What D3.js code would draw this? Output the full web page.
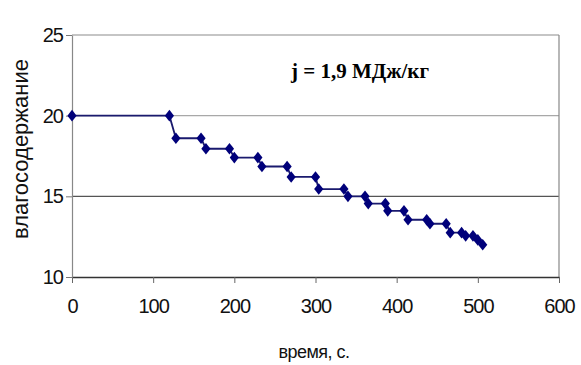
<!DOCTYPE html>
<html lang="ru">
<head>
<meta charset="UTF-8">
<title>влагосодержание</title>
<script src="https://d3js.org/d3.v7.min.js"></script>
<style>
  body { margin: 0; background: #fff; }
  .tick text { font-family: "Liberation Sans", Arial, sans-serif; font-size: 20px; letter-spacing: -1px; fill: #111; }
  .axis-title { font-family: "Liberation Sans", Arial, sans-serif; fill: #111; }
  .note { font-family: "Liberation Serif", "Times New Roman", serif; font-weight: bold; font-size: 21px; fill: #000; }
</style>
</head>
<body>
<svg width="581" height="365"></svg>
<script>
// время, с.
const times = [0, 120, 128, 159, 165, 194, 200, 229, 234, 265, 270, 300, 304, 335, 340, 361, 365,
               386, 389, 409, 414, 437, 441, 461, 466, 480, 485, 494, 500, 506];
// влагосодержание
const moisture = [20, 20, 18.6, 18.6, 17.95, 17.95, 17.4, 17.4, 16.85, 16.85, 16.2, 16.2, 15.45, 15.45, 15.0, 15.0, 14.55,
                  14.55, 14.1, 14.1, 13.55, 13.55, 13.3, 13.3, 12.75, 12.75, 12.55, 12.55, 12.3, 12.0];
const xTicks = [0, 100, 200, 300, 400, 500, 600];
const yTicks = [10, 15, 20, 25];

const data = times.map((t, i) => ({ t: t, w: moisture[i] }));

const margin = { top: 35, right: 22, bottom: 88, left: 72 };
const width = 581 - margin.left - margin.right;
const height = 365 - margin.top - margin.bottom;

const svg = d3.select("svg").append("g")
    .attr("transform", `translate(${margin.left},${margin.top})`);

const x = d3.scaleLinear().domain([0, 600]).range([0, width]);
const y = d3.scaleLinear().domain([10, 25]).range([height, 0]);

// grid lines
const gridColor = { 25: "#8c8c8c", 20: "#a8a8a8", 15: "#555" };
svg.selectAll(".grid")
    .data(yTicks.filter(d => d > 10))
    .enter().append("line")
    .attr("x1", 0).attr("x2", width)
    .attr("y1", d => y(d)).attr("y2", d => y(d))
    .attr("stroke", d => gridColor[d])
    .attr("stroke-width", 1.2);

// right border
svg.append("line")
    .attr("x1", width).attr("x2", width)
    .attr("y1", 0).attr("y2", height)
    .attr("stroke", "#888").attr("stroke-width", 1.2);

// axes
const xAxis = svg.append("g")
    .attr("transform", `translate(0,${height})`)
    .call(d3.axisBottom(x).tickValues(xTicks).tickSize(6).tickSizeOuter(0).tickPadding(16));
xAxis.select(".domain").attr("stroke", "#333").attr("stroke-width", 1.5);
xAxis.selectAll(".tick line").attr("stroke", "#666");

const yAxis = svg.append("g")
    .call(d3.axisLeft(y).tickValues(yTicks).tickSize(6).tickSizeOuter(0).tickPadding(3));
yAxis.select(".domain").attr("stroke", "#888").attr("stroke-width", 1.2);
yAxis.selectAll(".tick line").attr("stroke", "#777");

// line
svg.append("path")
    .datum(data)
    .attr("fill", "none")
    .attr("stroke", "#1a1a6e")
    .attr("stroke-width", 1.8)
    .attr("d", d3.line().x(d => x(d.t)).y(d => y(d.w)));

// diamond markers
svg.selectAll(".pt")
    .data(data)
    .enter().append("path")
    .attr("class", "pt")
    .attr("transform", d => `translate(${x(d.t)},${y(d.w)})`)
    .attr("d", "M0,-5.8L4.6,0L0,5.8L-4.6,0Z")
    .attr("fill", "#00007a");

// titles
svg.append("text")
    .attr("class", "axis-title")
    .attr("x", 242).attr("y", height + 81)
    .attr("text-anchor", "middle")
    .attr("font-size", "18px")
    .attr("letter-spacing", "-0.5px")
    .text("время, с.");

svg.append("text")
    .attr("class", "axis-title")
    .attr("transform", `translate(-44,${114}) rotate(-90)`)
    .attr("text-anchor", "middle")
    .attr("font-size", "22px")
    .text("влагосодержание");

svg.append("text")
    .attr("class", "note")
    .attr("x", 288).attr("y", 43)
    .attr("text-anchor", "middle")
    .text("j = 1,9 МДж/кг");
</script>
</body>
</html>
